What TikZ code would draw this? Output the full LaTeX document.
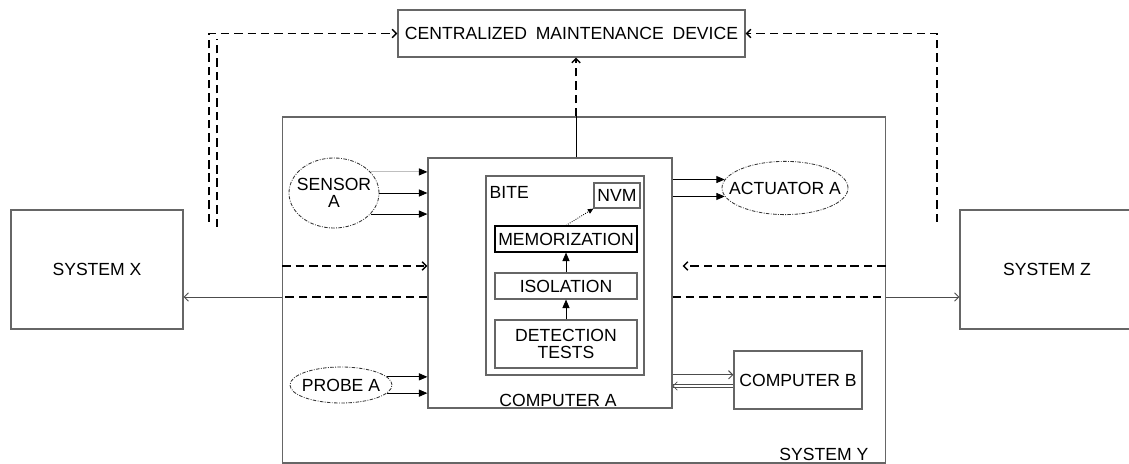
\documentclass[tikz,border=0pt]{standalone}
\usepackage{fontspec}
\setmainfont{Liberation Sans}
\usetikzlibrary{arrows.meta, positioning, shapes.geometric}

\begin{document}
\begin{tikzpicture}[x=0.025cm, y=-0.025cm,
  box/.style={rectangle, draw=black!60, line width=0.8pt, inner sep=0pt,
              align=center, font=\fontsize{12.5}{12}\selectfont},
  oval/.style={ellipse, draw=black!80, line width=0.6pt,
               dash pattern=on 2.5pt off 1pt on 0.6pt off 1pt,
               inner sep=-5mm, align=center, font=\fontsize{12.5}{12}\selectfont},
  lbl/.style={inner sep=0pt, font=\fontsize{12.5}{12}\selectfont},
  arr/.style={-{Triangle[length=6pt,width=5pt]}, line width=0.6pt},
  bus/.style={line width=0.7pt, draw=black!70},
  dline/.style={dash pattern=on 6pt off 3.5pt, line width=1pt},
  open/.style={-{Straight Barb[length=3pt,width=6pt]}},
]
  \useasboundingbox (0,0) rectangle (1129,464);

  % outer systems
  \node[box, minimum width=8.675cm, minimum height=1.175cm] (cmd) at (571.5,33.5)
    {CENTRALIZED\hspace{0.5em}MAINTENANCE\hspace{0.5em}DEVICE};
  \node[box, minimum width=15.05cm, minimum height=8.65cm] (sysY) at (584,290) {};
  \node[box, minimum width=4.3cm, minimum height=2.975cm] (sysX) at (97,269.5) {SYSTEM X};
  \node[box, minimum width=4.35cm, minimum height=2.975cm] (sysZ) at (1047,269.5) {SYSTEM Z};
  \node[lbl, anchor=base east] (sysYlbl) at ([shift={(-17,-3)}]sysY.south east) {SYSTEM Y};

  % computer A and its BITE
  \node[box, minimum width=6.1cm, minimum height=6.25cm] (compA) at (550,283) {};
  \node[lbl, anchor=base] (compAlbl) at ([shift={(8,-2)}]compA.south) {COMPUTER A};
  \node[box, minimum width=3.95cm, minimum height=4.975cm] (bite) at (565,275.5) {};
  \node[lbl, anchor=north west] (bitelbl) at ([shift={(4,11)}]bite.north west) {BITE};
  \node[box, minimum width=1.15cm, minimum height=0.625cm] (nvm) at (617,195.5) {NVM};
  \node[box, draw=black, minimum width=3.55cm, minimum height=0.65cm] (memo) at (566,239)
    {MEMORIZATION};
  \node[box, minimum width=3.55cm, minimum height=0.65cm] (isol) at (566,286) {ISOLATION};
  \node[box, minimum width=3.55cm, minimum height=1.2cm] (detect) at (566,344)
    {DETECTION\\TESTS};

  % peripherals
  \node[oval, minimum width=2.25cm, minimum height=1.75cm] (sensor) at (334,193) {SENSOR\\A};
  \node[oval, minimum width=3.15cm, minimum height=1.33cm] (actuator) at (785,188) {ACTUATOR A};
  \node[oval, minimum width=2.55cm, minimum height=0.9cm] (probe) at (341,385) {PROBE A};
  \node[box, minimum width=3.2cm, minimum height=1.45cm] (compB) at (798,380) {COMPUTER B};

  % sensor, probe, actuator links
  \draw[arr, draw=black!25, -{Triangle[length=6pt,width=5pt,color=black]}]
    (sensor.30) -- (sensor.30 -| compA.west);
  \draw[arr] (sensor.east) -- (sensor.east -| compA.west);
  \draw[arr] (sensor.-30) -- (sensor.-30 -| compA.west);
  \draw[arr] (probe.10) -- (probe.10 -| compA.west);
  \draw[arr] (probe.-10) -- (probe.-10 -| compA.west);
  \draw[arr] (actuator.172 -| compA.east) -- (actuator.172);
  \draw[arr] (actuator.188 -| compA.east) -- (actuator.188);

  % computer A <-> computer B
  \coordinate (ab1) at ([yshift=0.13cm]compB.west);
  \coordinate (ab2) at ([yshift=-0.15cm]compB.west);
  \draw[bus, open] (ab1 -| compA.east) -- (ab1);
  \draw[bus, open, double, double distance=1.2pt, line width=0.5pt] (ab2) -- (ab2 -| compA.east);

  % inside BITE
  \draw[arr] (detect) -- (isol);
  \draw[arr] (isol) -- (memo);
  \draw[arr, densely dotted, -{Triangle[length=4pt,width=3.5pt]}] (memo.north) -- (nvm.south west);

  % bus to systems X and Z
  \coordinate (bus) at (550,297);
  \draw[dline] (compA.west |- bus) -- (sysY.west |- bus);
  \draw[bus, open] (sysY.west |- bus) -- (sysX.east |- bus);
  \draw[dline] (compA.east |- bus) -- (sysY.east |- bus);
  \draw[bus, open] (sysY.east |- bus) -- (sysZ.west |- bus);

  % inputs to computer A
  \coordinate (inp) at (550,266);
  \draw[dline, open] (sysY.west |- inp) -- (compA.west |- inp);
  \draw[dline, open, shorten >=0.25cm] (sysY.east |- inp) -- (compA.east |- inp);

  % reports to the maintenance device
  \coordinate (upl) at (576,0);
  \draw[bus, draw=black] (compA.north -| upl) -- (sysY.north -| upl);
  \draw[dline, open] (sysY.north -| upl) -- (cmd.south -| upl);
  \coordinate (xo) at (209,222);
  \coordinate (xi1) at (217,227);
  \coordinate (xi2) at (217,39);
  \draw[dline, open] (xo) |- (cmd.west);
  \draw[dline] (xi1) -- (xi2);
  \coordinate (zo) at (937,222);
  \draw[dline, open] (zo) |- (cmd.east);
\end{tikzpicture}
\end{document}
